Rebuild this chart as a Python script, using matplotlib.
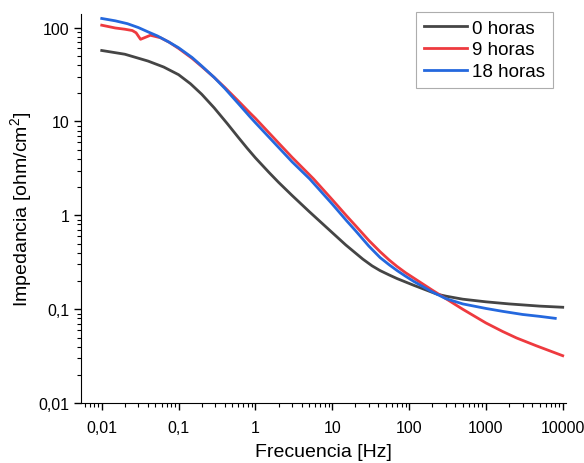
import matplotlib
matplotlib.use("Agg")
import matplotlib.pyplot as plt
from matplotlib.ticker import FuncFormatter, FixedLocator, LogLocator, NullFormatter

plt.rcParams["font.family"] = ["Liberation Sans", "DejaVu Sans"]
plt.rcParams["mathtext.default"] = "regular"

# 0 horas
freq_0h = [0.01, 0.02, 0.04, 0.064, 0.1, 0.143, 0.2, 0.29, 0.43, 0.6, 0.78,
           1, 1.5, 2, 3, 5, 10, 15, 25, 33, 42, 55, 70, 115, 230, 300, 500,
           1000, 2000, 5000, 10000]
imp_0h = [57, 52, 44, 38, 31.5, 25.2, 19.5, 14, 9.5, 6.76, 5.2,
          4.1, 2.87, 2.25, 1.63, 1.1, 0.655, 0.484, 0.342, 0.29, 0.258, 0.232,
          0.212, 0.18, 0.145, 0.138, 0.128, 0.12, 0.114, 0.108, 0.105]

# 9 horas
freq_9h = [0.01, 0.015, 0.02, 0.025, 0.028, 0.032, 0.036, 0.043, 0.058,
           0.075, 0.1, 0.15, 0.2, 0.29, 0.4, 0.6, 0.86, 1, 2, 3, 5.7, 10,
           15.5, 20, 30, 42, 55, 70, 90, 115, 200, 300, 500, 1000, 1650, 2500,
           4470, 10000]
imp_9h = [106, 99, 96, 93, 88, 75, 78, 82.8, 78,
          70, 60, 47, 38.5, 29.5, 23, 16.5, 12.2, 10.8, 5.9, 4.15, 2.45, 1.47,
          0.98, 0.78, 0.54, 0.41, 0.335, 0.285, 0.245, 0.215, 0.16, 0.13, 0.1,
          0.0715, 0.058, 0.0495, 0.041, 0.032]

# 18 horas
freq_18h = [0.01, 0.015, 0.0216, 0.03, 0.04, 0.053, 0.075, 0.1, 0.15, 0.2,
            0.29, 0.4, 0.6, 0.86, 1, 2, 3, 5.1, 10, 15.5, 20, 30, 42, 55, 70,
            90, 115, 200, 300, 500, 1000, 1650, 3000, 5000, 8000]
imp_18h = [125, 118, 110, 100, 90, 81.5, 70, 61, 48, 39,
           29.5, 22.5, 15.5, 11.1, 9.7, 5.3, 3.72, 2.44, 1.32, 0.87, 0.69,
           0.47, 0.355, 0.298, 0.258, 0.225, 0.198, 0.153, 0.13, 0.114, 0.102,
           0.095, 0.088, 0.084, 0.08]

x_ticks = [0.01, 0.1, 1, 10, 100, 1000, 10000]
y_ticks = [0.01, 0.1, 1, 10, 100]


def comma_fmt(v, pos):
    return ("%g" % v).replace(".", ",")


fig = plt.figure(figsize=(5.84, 4.64), dpi=100)
ax = fig.add_axes([0.139, 0.129, 0.83, 0.839])

ax.plot(freq_0h, imp_0h, color="#454545", lw=2, label="0 horas")
ax.plot(freq_9h, imp_9h, color="#ee3a3f", lw=2, label="9 horas")
ax.plot(freq_18h, imp_18h, color="#2468de", lw=2, label="18 horas")

ax.set_xscale("log")
ax.set_yscale("log")
ax.set_xlim(0.0054, 11000)
ax.set_ylim(0.01, 140)

ax.xaxis.set_major_locator(FixedLocator(x_ticks))
ax.yaxis.set_major_locator(FixedLocator(y_ticks))
for a in (ax.xaxis, ax.yaxis):
    a.set_minor_locator(LogLocator(base=10, subs=range(2, 10), numticks=20))
    a.set_major_formatter(FuncFormatter(comma_fmt))
    a.set_minor_formatter(NullFormatter())

ax.tick_params(which="major", direction="out", length=5, width=1, labelsize=11.5)
ax.tick_params(axis="x", which="major", pad=7)
ax.tick_params(which="minor", direction="out", length=3, width=0.8)
ax.spines["top"].set_visible(False)
ax.spines["right"].set_visible(False)

ax.set_xlabel("Frecuencia [Hz]", fontsize=14, labelpad=6)
ax.set_ylabel("Impedancia [ohm/cm$^{2}$]", fontsize=14, labelpad=3)

leg = ax.legend(loc="upper right", fontsize=13.5, fancybox=False,
                edgecolor="#999999", handlelength=2.3, labelspacing=0.25,
                handletextpad=0.3, borderaxespad=0.0,
                bbox_to_anchor=(0.973, 1.005))
leg.get_frame().set_linewidth(0.8)

fig.savefig("out.png", dpi=100)
